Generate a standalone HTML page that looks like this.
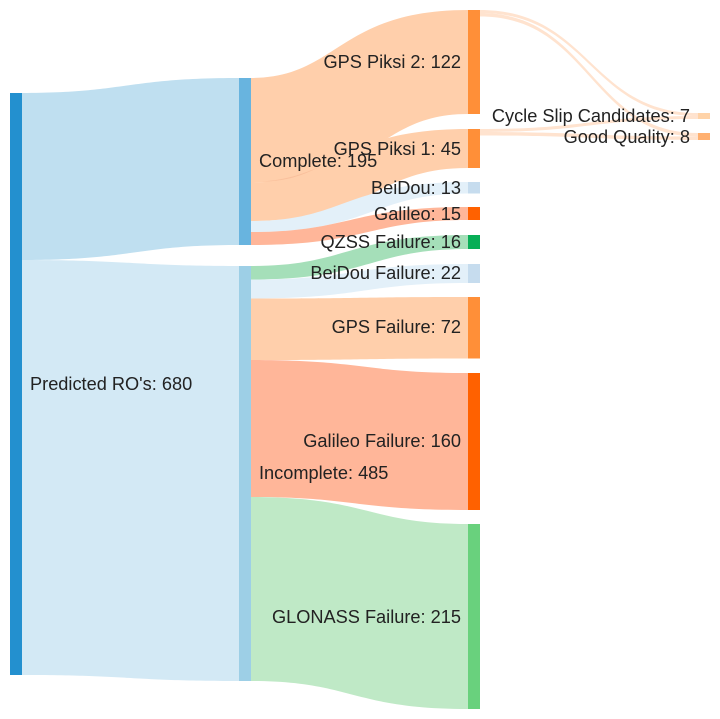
<!DOCTYPE html>
<html><head><meta charset="utf-8"><style>
html,body{margin:0;padding:0;background:#fff;width:720px;height:719px;overflow:hidden}
svg{display:block;filter:blur(.35px)}
text{font-family:"Liberation Sans",Arial,sans-serif;font-size:18.2px;fill:#222}
</style></head><body>
<svg width="720" height="719" viewBox="0 0 720 719" xmlns="http://www.w3.org/2000/svg">
<g>
<path fill="#bfdff0" d="M22 93C126 93 126 78 239 78L239 245C135 245 135 260 22 260Z"/>
<path fill="#d3e9f5" d="M22 260C132 260 132 266 239 266L239 681C130 681 130 675 22 675Z"/>
<path fill="#ffcfab" d="M251 78C338 78 338 10 468 10L468 114C376 114 376 182.500 251 182.500Z"/>
<path fill="#ffcfab" d="M251 182.500C336 182.500 336 129 468 129L468 168C374 168 374 221 251 221Z"/>
<path fill="#f7b995" opacity=".7" d="M262 181.500C285 180 303 174 319 167C303 175.500 285 181.500 262 181.500Z"/>
<path fill="#e3f0f9" d="M251 221C345 221 345 182 468 182L468 193.500C372 193.500 372 232 251 232Z"/>
<path fill="#ffb699" d="M251 232C350 232 350 207 468 207L468 220C368 220 368 245 251 245Z"/>
<path fill="#a5dfb9" d="M251 266C348 266 348 235 468 235L468 249C370 249 370 279.500 251 279.500Z"/>
<path fill="#e3f0f9" d="M251 279.500C354 279.500 354 264 468 264L468 283C364 283 364 298.500 251 298.500Z"/>
<path fill="#ffcfab" d="M251 298.500C360 298.500 360 297 468 297L468 358.500C360 358.500 360 360 251 360Z"/>
<path fill="#ffb699" d="M251 360C364 360 364 373 468 373L468 510C355 510 355 497 251 497Z"/>
<path fill="#bfe9c6" d="M251 497C368 497 368 524 468 524L468 709C352 709 352 681 251 681Z"/>
<g fill="#ffe3cf">
<path d="M480 10C590 10 590 113 698 113L698 116C590 116 590 13 480 13Z"/>
<path d="M480 13C590 13 590 133 698 133L698 136.500C590 136.500 590 16.500 480 16.500Z"/>
<path d="M480 129C590 129 590 116 698 116L698 119C590 119 590 132 480 132Z"/>
<path d="M480 132C590 132 590 136.500 698 136.500L698 140C590 140 590 135.500 480 135.500Z"/>
</g>
</g>
<g>
<rect x="10" y="93" width="12" height="582" fill="#2390cf"/>
<rect x="239" y="78" width="12" height="167" fill="#68b4df"/>
<rect x="239" y="266" width="12" height="415" fill="#9dcfe6"/>
<rect x="468" y="10" width="12" height="104" fill="#ff8f38"/>
<rect x="468" y="129" width="12" height="39" fill="#ff8f38"/>
<rect x="468" y="182" width="12" height="11.500" fill="#c6dcee"/>
<rect x="468" y="207" width="12" height="13" fill="#ff6100"/>
<rect x="468" y="235" width="12" height="14" fill="#07ae56"/>
<rect x="468" y="264" width="12" height="19" fill="#c6dcee"/>
<rect x="468" y="297" width="12" height="61.500" fill="#ff8f38"/>
<rect x="468" y="373" width="12" height="137" fill="#ff6100"/>
<rect x="468" y="524" width="12" height="185" fill="#69d17d"/>
<rect x="698" y="113" width="12" height="6" fill="#ffd3a8"/>
<rect x="698" y="133" width="12" height="7" fill="#ffb070"/>
</g>
<g>
<text x="30" y="390">Predicted RO's: 680</text>
<text x="259" y="167">Complete: 195</text>
<text x="259" y="479">Incomplete: 485</text>
<g text-anchor="end">
<text x="461" y="68">GPS Piksi 2: 122</text>
<text x="461" y="155">GPS Piksi 1: 45</text>
<text x="461" y="194">BeiDou: 13</text>
<text x="461" y="220">Galileo: 15</text>
<text x="461" y="248">QZSS Failure: 16</text>
<text x="461" y="279">BeiDou Failure: 22</text>
<text x="461" y="333">GPS Failure: 72</text>
<text x="461" y="447">Galileo Failure: 160</text>
<text x="461" y="623">GLONASS Failure: 215</text>
<text x="690" y="122">Cycle Slip Candidates: 7</text>
<text x="690" y="143">Good Quality: 8</text>
</g>
</g>
</svg>
</body></html>
